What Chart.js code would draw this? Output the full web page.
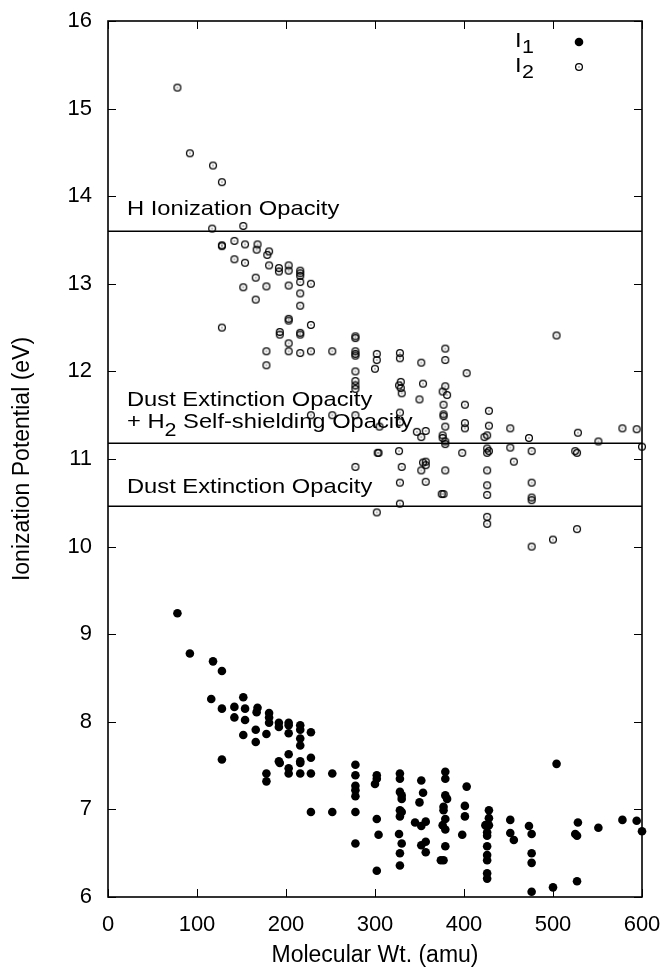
<!DOCTYPE html>
<html>
<head>
<meta charset="utf-8">
<script src="https://cdn.jsdelivr.net/npm/chart.js@4.4.1/dist/chart.umd.min.js"></script>
<style>
    html, body { margin: 0; padding: 0; background: #fff; }
    .chart-box { width: 669px; height: 969px; position: relative; }
</style>
</head>
<body>
<div class="chart-box"><canvas id="ipChart"></canvas></div>
<script>
// First ionization potential I1 (filled dots)
const i1Mass = [78,92,118,128,116,128,152,142,154,168,
    167,142,154,181,181,181,192,192,203,203,
    216,216,216,216,228,152,166,178,203,166,
    128,203,192,193,216,216,228,203,203,178,
    178,216,228,252,278,278,278,278,278,302,
    302,300,228,252,278,278,302,304,302,328,
    328,328,330,330,328,330,328,327,330,328,
    328,352,354,350,345,352,357,352,357,357,
    379,379,379,381,377,377,379,376,379,379,
    374,377,403,401,401,398,428,428,424,428,
    426,426,426,426,426,426,426,452,452,456,
    473,476,476,476,476,500,504,527,528,525,
    527,551,578,594,600];
const i1Ev = [9.24,8.78,8.69,8.58,8.26,8.15,8.28,8.17,8.15,8.16,
    8.11,8.05,8.02,8.10,8.05,7.99,7.99,7.94,7.99,7.96,
    7.96,7.91,7.81,7.73,7.88,7.85,7.91,7.86,7.87,7.77,
    7.57,7.63,7.55,7.53,7.55,7.53,7.59,7.47,7.41,7.41,
    7.32,7.41,7.41,7.41,7.51,7.39,7.27,7.22,7.15,7.39,
    7.35,7.29,6.97,6.97,6.97,6.61,6.89,6.71,6.30,7.41,
    7.35,7.20,7.16,7.12,6.99,6.97,6.92,6.72,6.61,6.50,
    6.36,7.33,7.19,7.08,6.85,6.81,6.86,6.59,6.63,6.51,
    7.43,7.35,7.16,7.12,7.03,6.99,6.89,6.82,6.77,6.58,
    6.42,6.42,7.26,7.04,6.92,6.71,6.99,6.90,6.82,6.82,
    6.74,6.70,6.58,6.48,6.42,6.27,6.21,6.88,6.73,6.65,
    6.81,6.72,6.50,6.39,6.06,6.11,7.52,6.18,6.85,6.72,
    6.70,6.79,6.88,6.87,6.75];

// Second ionization potential I2 (open circles)
const i2Mass = [78,92,118,128,117,152,128,128,142,154,
    168,167,181,179,142,154,181,192,192,203,
    203,216,216,216,216,228,166,152,178,203,
    216,166,216,203,128,203,193,193,216,216,
    228,203,203,178,216,228,252,278,278,278,
    278,278,178,278,278,278,278,302,302,300,
    228,252,278,278,303,302,504,328,328,352,
    379,379,403,329,327,329,330,354,350,379,
    376,381,377,377,377,379,376,376,379,379,
    401,401,401,428,428,426,423,426,426,428,
    426,426,426,426,426,328,328,305,347,352,
    357,452,452,473,476,456,476,476,476,476,
    500,527,528,525,527,551,578,594,600,304,
    327,330,328,328,354,357,357,352,357,379,
    375,377,398];
const i2Ev = [15.24,14.49,14.35,14.16,13.63,13.66,13.44,13.43,13.49,13.45,
    13.45,13.39,13.37,13.33,13.28,13.24,13.21,13.18,13.14,13.21,
    13.15,13.15,13.12,13.09,13.02,13.00,13.07,12.96,12.97,12.98,
    12.89,12.82,12.75,12.60,12.50,12.58,12.45,12.42,12.44,12.42,
    12.53,12.32,12.23,12.23,12.21,12.23,12.23,12.40,12.38,12.23,
    12.20,12.18,12.07,12.00,11.89,11.84,11.80,12.20,12.13,12.03,
    11.50,11.50,11.50,10.91,11.07,10.39,12.41,12.21,12.15,12.10,
    12.26,12.13,11.98,11.88,11.84,11.81,11.75,11.86,11.68,11.83,
    11.77,11.73,11.62,11.51,11.49,11.37,11.27,11.24,11.20,11.17,
    11.62,11.41,11.35,11.55,11.38,11.27,11.25,11.12,11.07,11.09,
    10.87,10.70,10.59,10.34,10.26,11.53,11.42,11.37,11.31,11.25,
    11.32,11.35,11.13,11.24,11.09,10.97,10.73,10.56,10.53,10.00,
    10.08,10.20,11.30,11.09,11.07,11.20,11.35,11.34,11.14,11.07,
    11.09,10.91,10.73,10.49,10.96,10.97,10.93,10.87,10.74,10.87,
    10.60,10.60,11.07];

// Opacity thresholds (eV)
const opacityEv = [13.6, 11.18, 10.46];

// Axis ticks
const xTicks = [0, 100, 200, 300, 400, 500, 600];
const yTicks = [6, 7, 8, 9, 10, 11, 12, 13, 14, 15, 16];

const FONT = '"Liberation Sans", Arial, Helvetica, sans-serif';

const toPoints = (xs, ys) => xs.map((v, i) => ({ x: v, y: ys[i] }));

// open circle with a dot in the middle
function makeOpenMarker() {
    const c = document.createElement('canvas');
    c.width = 10; c.height = 10;
    const g = c.getContext('2d');
    g.strokeStyle = '#000';
    g.lineWidth = 1.25;
    g.beginPath();
    g.arc(5, 5, 3.4, 0, Math.PI * 2);
    g.stroke();
    g.fillStyle = '#000';
    g.fillRect(4.5, 4.5, 1, 1);
    return c;
}
const openMarker = makeOpenMarker();

// text drawn a bit wider, like the original plot
function wideText(ctx, str, x, y, size) {
    ctx.font = size + 'px ' + FONT;
    ctx.save();
    ctx.translate(x, y);
    ctx.scale(1.13, 1);
    ctx.fillText(str, 0, 0);
    ctx.restore();
    return ctx.measureText(str).width * 1.13;
}

// Labels for the opacity bands
const bandLabels = {
    id: 'bandLabels',
    beforeDatasetsDraw(chart) {
        const { ctx, scales: { x, y } } = chart;
        ctx.save();
        ctx.fillStyle = '#000';
        ctx.textBaseline = 'alphabetic';
        const left = x.getPixelForValue(21.3);
        wideText(ctx, 'H Ionization Opacity', left, y.getPixelForValue(13.79), 21);
        wideText(ctx, 'Dust Extinction Opacity', left, y.getPixelForValue(11.605), 21);
        let bx = left;
        const by = y.getPixelForValue(11.354);
        bx += wideText(ctx, '+ H', bx, by, 21);
        bx += wideText(ctx, '2', bx, by + 8, 19);
        wideText(ctx, ' Self-shielding Opacity', bx, by, 21);
        wideText(ctx, 'Dust Extinction Opacity', left, y.getPixelForValue(10.61), 21);
        ctx.restore();
    }
};

// gnuplot-like frame, inward ticks and key
const frameTicks = {
    id: 'frameTicks',
    beforeDatasetsDraw(chart) {
        const { ctx, chartArea: a, scales: { x, y } } = chart;
        ctx.save();
        ctx.strokeStyle = '#000';
        ctx.lineWidth = 1;
        ctx.beginPath();
        xTicks.forEach(v => {
            const px = Math.round(x.getPixelForValue(v)) + 0.5;
            ctx.moveTo(px, a.bottom); ctx.lineTo(px, a.bottom - 8);
            ctx.moveTo(px, a.top); ctx.lineTo(px, a.top + 8);
        });
        yTicks.forEach(v => {
            const py = Math.round(y.getPixelForValue(v)) + 0.5;
            ctx.moveTo(a.left, py); ctx.lineTo(a.left + 8, py);
            ctx.moveTo(a.right, py); ctx.lineTo(a.right - 8, py);
        });
        ctx.stroke();
        ctx.lineWidth = 1.6;
        ctx.strokeRect(a.left, a.top, a.right - a.left, a.bottom - a.top);

        // key
        ctx.fillStyle = '#000';
        ctx.textBaseline = 'alphabetic';
        const kx = a.right - 127;
        wideText(ctx, 'I', kx, a.top + 26, 21);
        wideText(ctx, '1', kx + 7, a.top + 32, 19);
        wideText(ctx, 'I', kx, a.top + 51, 21);
        wideText(ctx, '2', kx + 7, a.top + 57, 19);
        ctx.beginPath();
        ctx.arc(a.right - 63, a.top + 21, 4.3, 0, Math.PI * 2);
        ctx.fill();
        ctx.drawImage(openMarker, a.right - 63 - 5, a.top + 46 - 5);
        ctx.restore();
    }
};

const lineSet = v => ({
    type: 'line',
    data: [{ x: 0, y: v }, { x: 600, y: v }],
    borderColor: '#000',
    borderWidth: 1.4,
    pointRadius: 0,
    fill: false
});

new Chart(document.getElementById('ipChart').getContext('2d'), {
    type: 'scatter',
    data: {
        datasets: [
            ...opacityEv.map(lineSet),
            {
                label: 'I1',
                data: toPoints(i1Mass, i1Ev),
                pointStyle: 'circle',
                pointRadius: 4.3,
                backgroundColor: '#000',
                borderWidth: 0,
                clip: false
            },
            {
                label: 'I2',
                data: toPoints(i2Mass, i2Ev),
                pointStyle: openMarker,
                pointRadius: 4,
                clip: false
            }
        ]
    },
    options: {
        responsive: true,
        maintainAspectRatio: false,
        animation: false,
        events: [],
        layout: { autoPadding: false, padding: { left: 0, right: 27, top: 21, bottom: 0 } },
        plugins: {
            legend: { display: false },
            tooltip: { enabled: false }
        },
        scales: {
            x: {
                type: 'linear',
                min: 0,
                max: 600,
                afterFit(scale) { scale.height = 72; },
                afterBuildTicks(scale) { scale.ticks = xTicks.map(v => ({ value: v })); },
                // tick marks hidden; tickLength only pushes the labels away
                grid: { display: false, drawTicks: true, tickLength: 10 },
                border: { display: false },
                ticks: { color: '#000', padding: 5, maxRotation: 0, font: { family: FONT, size: 22 } },
                title: {
                    display: true,
                    text: 'Molecular Wt. (amu)',
                    color: '#000',
                    padding: { top: 0, bottom: 0 },
                    font: { family: FONT, size: 23 }
                }
            },
            y: {
                type: 'linear',
                min: 6,
                max: 16,
                afterFit(scale) { scale.width = 108; },
                afterBuildTicks(scale) { scale.ticks = yTicks.map(v => ({ value: v })); },
                grid: { display: false, drawTicks: true, tickLength: 10 },
                border: { display: false },
                ticks: { color: '#000', padding: 6, font: { family: FONT, size: 22 } },
                title: {
                    display: true,
                    text: 'Ionization Potential (eV)',
                    color: '#000',
                    padding: { top: 9, bottom: 0 },
                    font: { family: FONT, size: 23 }
                }
            }
        }
    },
    plugins: [bandLabels, frameTicks]
});
</script>
</body>
</html>
